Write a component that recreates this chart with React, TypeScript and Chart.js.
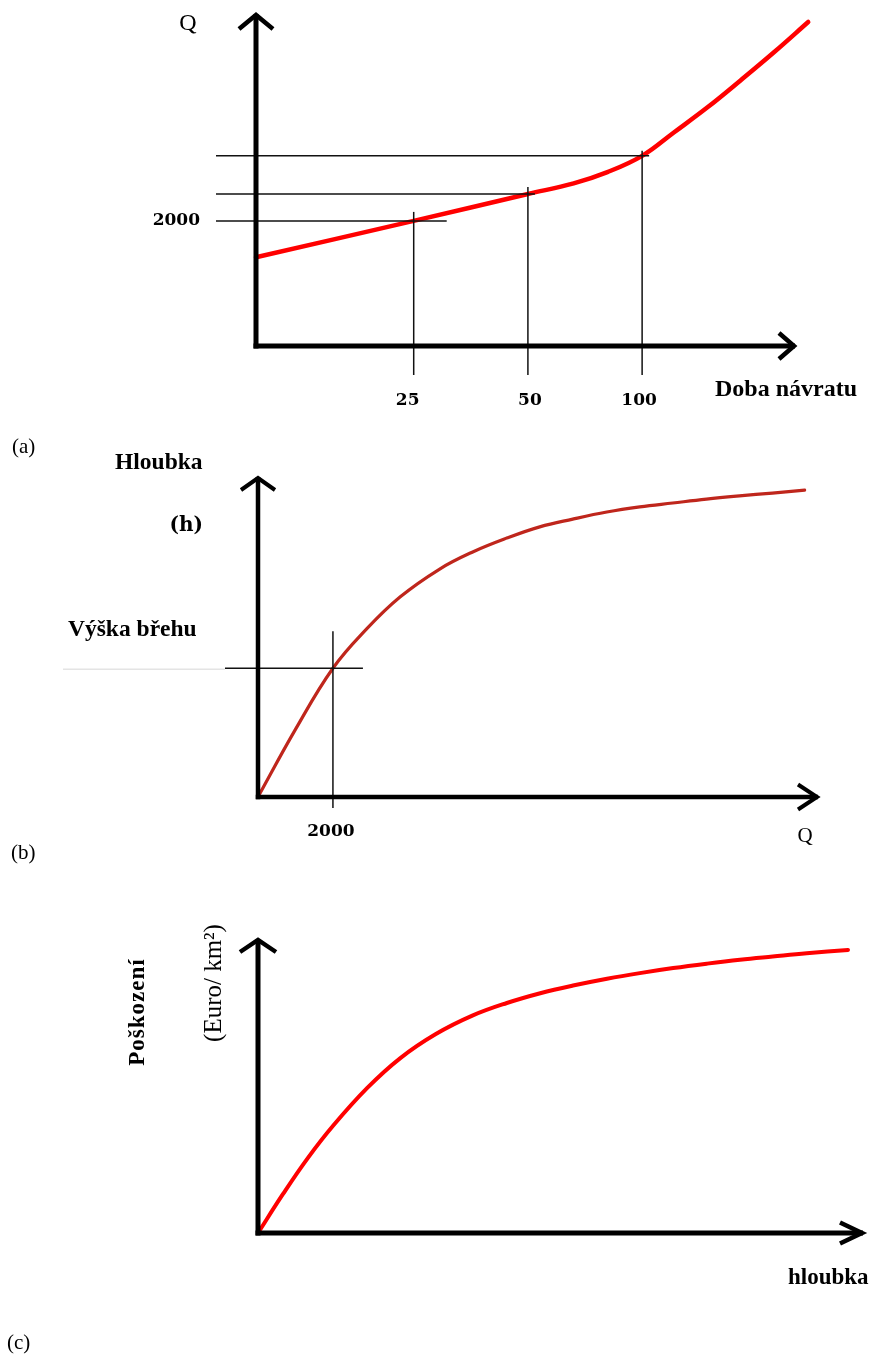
import { useEffect, useRef } from "react";
import { Chart, registerables } from "chart.js";

Chart.register(...registerables);

// ---------- (a) Q vs return period ----------
const returnPeriods = [9.6, 25, 50, 66, 81, 100, 121, 149, 182, 223, 274];
const dischargeA = [1420, 2000, 2430, 2600, 2780, 3040, 3410, 3820, 4250, 4700, 5180];
const returnTickValues = [25, 50, 100];
const returnTickLabels = ["25", "50", "100"];
const designDischarges = [2000, 2430, 3040];
const yTickValuesA = [2000];
const yTickLabelsA = ["2000"];

// ---------- (b) depth vs Q ----------
const dischargeB = [0, 1000, 2000, 2900, 3790, 4850, 5730, 6640, 7520, 8400, 9310, 10190, 11070, 11970, 12850, 13730, 14590];
const depthB = [0, 2.1, 4.0, 5.22, 6.21, 7.08, 7.61, 8.04, 8.39, 8.63, 8.85, 9.01, 9.13, 9.25, 9.35, 9.44, 9.53];
const bankDischarge = 2000;
const bankDepth = 4.0;
const xTickLabelsB = ["2000"];

// ---------- (c) damage vs depth ----------
const depthC = [0, 0.41, 0.82, 1.24, 1.8, 2.34, 2.93, 3.54, 4.1, 4.65, 5.19, 5.75, 6.29, 6.84, 7.4, 7.94, 8.48, 9.04, 9.72];
const damageC = [0, 13.1, 25.3, 36.3, 49.0, 59.0, 67.2, 73.5, 77.7, 81.0, 83.6, 85.9, 87.8, 89.5, 91.0, 92.3, 93.4, 94.5, 95.6];

const SERIF = "'Liberation Serif', 'Times New Roman', serif";
const NUM = "'DejaVu Serif', serif";

function drawAxes(
  ctx: CanvasRenderingContext2D,
  a: any,
  lw: number,
  up: [number, number],
  right: [number, number]
) {
  ctx.save();
  ctx.strokeStyle = "#000";
  ctx.lineWidth = lw;
  ctx.lineCap = "butt";
  ctx.lineJoin = "miter";
  ctx.beginPath();
  ctx.moveTo(a.left, a.bottom + lw / 2);
  ctx.lineTo(a.left, a.top + 2);
  ctx.stroke();
  ctx.beginPath();
  ctx.moveTo(a.left - lw / 2, a.bottom);
  ctx.lineTo(a.right - 2, a.bottom);
  ctx.stroke();
  ctx.lineWidth = lw - 0.5;
  ctx.beginPath();
  ctx.moveTo(a.left - up[0], a.top + up[1]);
  ctx.lineTo(a.left, a.top + 3);
  ctx.lineTo(a.left + up[0], a.top + up[1]);
  ctx.stroke();
  ctx.beginPath();
  ctx.moveTo(a.right - right[1], a.bottom - right[0]);
  ctx.lineTo(a.right - 3, a.bottom);
  ctx.lineTo(a.right - right[1], a.bottom + right[0]);
  ctx.stroke();
  ctx.restore();
}

function text(
  ctx: CanvasRenderingContext2D,
  s: string,
  x: number,
  y: number,
  font: string,
  align: CanvasTextAlign = "center",
  rotate = 0,
  spacing = "0px"
) {
  ctx.save();
  ctx.font = font;
  ctx.fillStyle = "#000";
  ctx.textAlign = align;
  ctx.textBaseline = "middle";
  (ctx as any).letterSpacing = spacing;
  ctx.translate(x, y);
  if (rotate) ctx.rotate(rotate);
  ctx.fillText(s, 0, 0);
  ctx.restore();
}

function line(ctx: CanvasRenderingContext2D, x1: number, y1: number, x2: number, y2: number, color = "#111", w = 1.5) {
  ctx.save();
  ctx.strokeStyle = color;
  ctx.lineWidth = w;
  ctx.beginPath();
  ctx.moveTo(x1, y1);
  ctx.lineTo(x2, y2);
  ctx.stroke();
  ctx.restore();
}

// styling of guide overshoots and label nudges (pixels)
const guideStyleA = { left: 40, right: [33, 7, 7], above: [9, 7, 5], below: 29, labelNudge: [-6, 2, -3] };
const guideStyleB = { left: 33, right: 30, above: 37, below: 11 };

const overlayA = {
  id: "overlayA",
  afterDatasetsDraw(chart: any) {
    const { ctx, chartArea: a, scales } = chart;
    const x = scales.x, y = scales.y;
    returnTickValues.forEach((t, i) => {
      const px = x.getPixelForValue(t);
      const py = y.getPixelForValue(designDischarges[i]);
      line(ctx, a.left - guideStyleA.left, py, px + guideStyleA.right[i], py);
      line(ctx, px, py - guideStyleA.above[i], px, a.bottom + guideStyleA.below);
      text(ctx, returnTickLabels[i], px + guideStyleA.labelNudge[i], a.bottom + 55, `bold 17px ${NUM}`);
    });
    drawAxes(ctx, a, 5, [17, 17], [13, 18]);
    yTickValuesA.forEach((v, i) => {
      text(ctx, yTickLabelsA[i], a.left - 56, y.getPixelForValue(v), `bold 17px ${NUM}`, "right");
    });
    text(ctx, "Q", a.left - 68, a.top + 12, `24px ${SERIF}`);
    text(ctx, "Doba návratu", 715, a.bottom + 44, `bold 24px ${SERIF}`, "left");
  },
};

const overlayB = {
  id: "overlayB",
  afterDatasetsDraw(chart: any) {
    const { ctx, chartArea: a, scales } = chart;
    const x = scales.x, y = scales.y;
    const px = x.getPixelForValue(bankDischarge);
    const py = y.getPixelForValue(bankDepth);
    line(ctx, 63, py + 1, a.left - guideStyleB.left, py + 1, "#e4e4e4", 1.5);
    line(ctx, a.left - guideStyleB.left, py, px + guideStyleB.right, py);
    line(ctx, px, py - guideStyleB.above, px, a.bottom + guideStyleB.below);
    drawAxes(ctx, a, 4.5, [17, 15], [12.5, 22]);
    text(ctx, xTickLabelsB[0], px - 2, a.bottom + 35, `bold 17px ${NUM}`);
    text(ctx, "Q", 805, a.bottom + 39, `21px ${SERIF}`);
    text(ctx, "Hloubka", 115, 43, `bold 23.5px ${SERIF}`, "left");
    text(ctx, "(h)", 203, 106, `bold 20px ${NUM}`, "right");
    text(ctx, "Výška břehu", 68, 210, `bold 23.5px ${SERIF}`, "left");
  },
};

const overlayC = {
  id: "overlayC",
  afterDatasetsDraw(chart: any) {
    const { ctx, chartArea: a } = chart;
    drawAxes(ctx, a, 5, [18, 15], [10.5, 25]);
    text(ctx, "Poškození", 138.5, 132, `bold 23px ${SERIF}`, "center", -Math.PI / 2, "1px");
    text(ctx, "(Euro/ km²)", 214, 103, `25px ${SERIF}`, "center", -Math.PI / 2);
    text(ctx, "hloubka", 788, 398, `bold 23px ${SERIF}`, "left");
  },
};

function baseOptions(padding: any, xScale: any, yScale: any) {
  return {
    responsive: false,
    animation: false,
    devicePixelRatio: 1,
    events: [],
    layout: { padding },
    scales: { x: { ...xScale, display: false }, y: { ...yScale, display: false } },
    plugins: { legend: { display: false }, tooltip: { enabled: false } },
    elements: { point: { radius: 0 } },
  };
}

function dataset(points: { x: number; y: number }[], color: string, width: number) {
  return {
    data: points,
    borderColor: color,
    borderWidth: width,
    tension: 0.4,
    clip: false,
    fill: false,
    borderCapStyle: "round",
    borderJoinStyle: "round",
  };
}

function configA(): any {
  return {
    type: "line",
    data: { datasets: [dataset(returnPeriods.map((t, i) => ({ x: t, y: dischargeA[i] })), "#ff0000", 4.5)] },
    options: baseOptions(
      { left: 256, top: 12, right: 80, bottom: 74 },
      { type: "logarithmic", min: 9.6, max: 256 },
      { type: "linear", min: 0, max: 5340 }
    ),
    plugins: [overlayA],
  };
}

function configB(): any {
  return {
    type: "line",
    data: { datasets: [dataset(dischargeB.map((q, i) => ({ x: q, y: depthB[i] })), "#bf261c", 3.2)] },
    options: baseOptions(
      { left: 258, top: 55, right: 57, bottom: 63 },
      { type: "linear", min: 0, max: 15000 },
      { type: "linear", min: 0, max: 10 }
    ),
    plugins: [overlayB],
  };
}

function configC(): any {
  return {
    type: "line",
    data: { datasets: [dataset(depthC.map((d, i) => ({ x: d, y: damageC[i] })), "#ff0000", 4)] },
    options: baseOptions(
      { left: 258, top: 57, right: 12, bottom: 127 },
      { type: "linear", min: 0, max: 10 },
      { type: "linear", min: 0, max: 100 }
    ),
    plugins: [overlayC],
  };
}

function ChartCanvas({ top, height, build }: { top: number; height: number; build: () => any }) {
  const ref = useRef<HTMLCanvasElement | null>(null);
  useEffect(() => {
    const chart = new Chart(ref.current as HTMLCanvasElement, build());
    return () => chart.destroy();
  }, []);
  return (
    <canvas
      ref={ref}
      width={877}
      height={height}
      style={{ position: "absolute", left: 0, top, width: 877, height, display: "block" }}
    />
  );
}

const panelLabelStyle = (left: number, centerY: number): React.CSSProperties => ({
  position: "absolute",
  left,
  top: centerY - 12,
  height: 24,
  lineHeight: "24px",
  fontFamily: SERIF,
  fontSize: 21,
  color: "#000",
});

export default function App() {
  return (
    <div
      style={{
        position: "absolute",
        left: 0,
        top: 0,
        width: 877,
        height: 1360,
        background: "#fff",
        overflow: "hidden",
      }}
    >
      <ChartCanvas top={0} height={420} build={configA} />
      <ChartCanvas top={420} height={440} build={configB} />
      <ChartCanvas top={880} height={480} build={configC} />
      <div style={panelLabelStyle(12, 446)}>(a)</div>
      <div style={panelLabelStyle(11, 852)}>(b)</div>
      <div style={panelLabelStyle(7, 1342)}>(c)</div>
    </div>
  );
}
